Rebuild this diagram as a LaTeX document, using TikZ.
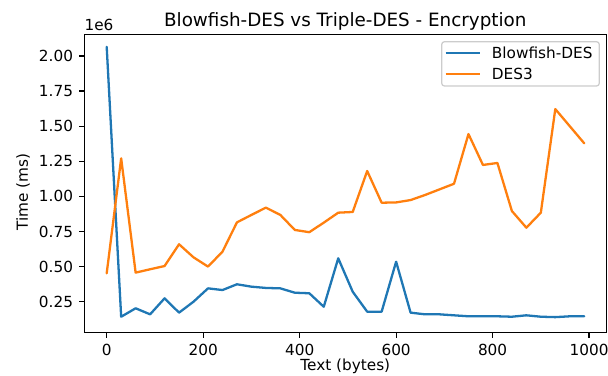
\documentclass[tikz,border=0pt]{standalone}
\usepackage{fontspec}
\setmainfont{DejaVu Sans}
\usepackage{tikz}
\usetikzlibrary{positioning}
\definecolor{bfblue}{HTML}{1F77B4}
\definecolor{desorange}{HTML}{FF7F0E}
\definecolor{legedge}{HTML}{CCCCCC}

\begin{document}
\begin{tikzpicture}[x=0.72pt,y=0.72pt,
  lbl/.style={font=\fontsize{11}{13}\selectfont,inner sep=0pt},
  series/.style={line width=1.65pt,line join=round,line cap=round},
  tick/.style={line width=0.88pt}]
  \useasboundingbox (0,0) rectangle (608,376);
  % axes frame
  \draw[line width=0.88pt] (84.3,43.5) rectangle (606.3,341.3);
  % data area: bytes along x, units of 1e6 along y
  \begin{scope}[shift={(106.7,39.2)},x=0.3473pt,y=101.09pt]
    \foreach \xv in {0,200,...,1000} {
      \draw[tick] (\xv,0.0306) -- ++(0,-3.85pt)
        node[below=3.85pt,lbl] (xt\xv) {\xv};
    }
    \foreach \yv/\ylab in {0.25/0.25,0.5/0.50,0.75/0.75,1.0/1.00,1.25/1.25,1.5/1.50,1.75/1.75,2.0/2.00} {
      \draw[tick] (-46.44,\yv) -- ++(-3.85pt,0)
        node[left=3.85pt,lbl] {\ylab};
    }
    % Blowfish-DES
    \draw[series,bfblue] plot coordinates {(0,2.065) (30,0.143) (60,0.203) (90,0.16)
      (120,0.274) (150,0.172) (180,0.25) (210,0.345) (240,0.333) (270,0.374)
      (300,0.357) (330,0.348) (360,0.345) (390,0.314) (420,0.31) (450,0.214)
      (480,0.559) (510,0.321) (540,0.179) (570,0.179) (600,0.535) (630,0.172)
      (660,0.16) (690,0.16) (720,0.153) (750,0.146) (780,0.146) (810,0.146)
      (840,0.143) (870,0.153) (900,0.143) (930,0.14) (960,0.146) (990,0.146)};
    % DES3
    \draw[series,desorange] plot coordinates {(0,0.452) (30,1.271) (60,0.457) (90,0.481)
      (120,0.504) (150,0.659) (180,0.566) (210,0.5) (240,0.606) (270,0.815)
      (300,0.868) (330,0.92) (360,0.868) (390,0.761) (420,0.745) (450,0.813)
      (480,0.884) (510,0.889) (540,1.181) (570,0.955) (600,0.957) (630,0.974)
      (660,1.01) (690,1.05) (720,1.09) (750,1.444) (780,1.224) (810,1.238)
      (840,0.896) (870,0.777) (900,0.884) (930,1.622) (960,1.5) (990,1.378)};
  \end{scope}
  % texts round the axes
  \node[lbl,font=\fontsize{13.2}{15}\selectfont,anchor=base] (title) at (345.3,349.3)
    {Blowfish-DES vs Triple-DES - Encryption};
  \node[lbl,anchor=base west] (offset) at (84.3,345) {1e6};
  \node[lbl] (xlbl) at (345.3,9.5) {Text (bytes)};
  \node[lbl,rotate=90] (ylbl) at (23,184) {Time (ms)};
  % legend
  \draw[legedge,fill=white,rounded corners=2pt,line width=0.88pt]
    (441.7,290) rectangle (599.3,334.3);
  \draw[series,bfblue,line cap=butt] (445.7,323.3) -- (480,323.3);
  \draw[series,desorange,line cap=butt] (445.7,302) -- (480,302);
  \node[lbl,anchor=west] (legbf) at (491.7,323.3) {Blowfish-DES};
  \node[lbl,anchor=west] (legdes) at (491.7,302) {DES3};
\end{tikzpicture}
\end{document}
